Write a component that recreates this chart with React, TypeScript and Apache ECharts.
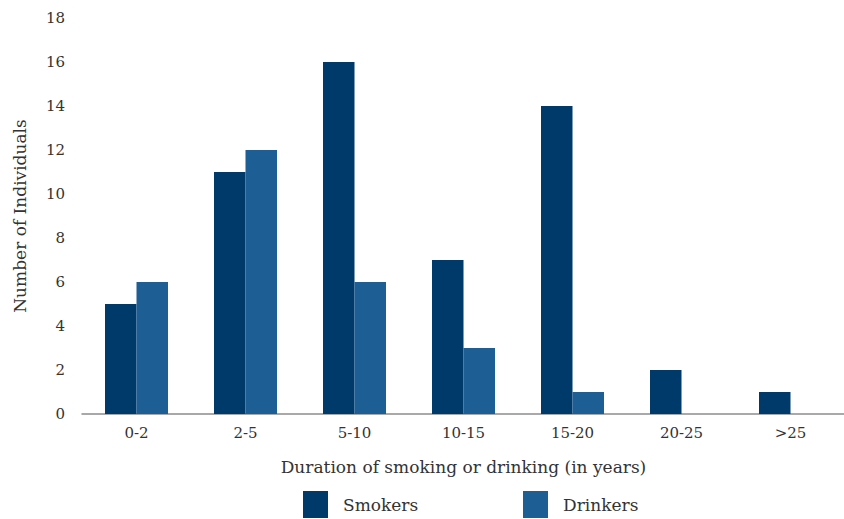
import React, { useEffect, useRef } from "react";
import * as echarts from "echarts";

const categories = ["0-2", "2-5", "5-10", "10-15", "15-20", "20-25", ">25"];
const smokers = [5, 11, 16, 7, 14, 2, 1];
const drinkers = [6, 12, 6, 3, 1, 0, 0];
const yTicks = { min: 0, max: 18, interval: 2 };

const SERIF = "'DejaVu Serif', serif";

export default function App() {
  const ref = useRef<HTMLDivElement>(null);
  useEffect(() => {
    const chart = echarts.init(ref.current!, null, { renderer: "svg" });
    chart.setOption({
      animation: false,
      backgroundColor: "#ffffff",
      grid: { left: 82, right: -1, top: 18, bottom: 105, outerBoundsMode: "none", containLabel: false },
      legend: [
        {
          data: ["Smokers"],
          left: 303,
          top: 491,
          padding: 0,
          itemWidth: 25,
          itemHeight: 27,
          icon: "rect",
          textStyle: { fontFamily: SERIF, fontSize: 17, color: "#333", padding: [0, 0, 0, 10] },
        },
        {
          data: ["Drinkers"],
          left: 523,
          top: 491,
          padding: 0,
          itemWidth: 25,
          itemHeight: 27,
          icon: "rect",
          textStyle: { fontFamily: SERIF, fontSize: 17, color: "#333", padding: [0, 0, 0, 10] },
        },
      ],
      xAxis: {
        type: "category",
        data: categories,
        name: "Duration of smoking or drinking (in years)",
        nameLocation: "middle",
        nameGap: 44,
        nameTextStyle: { fontFamily: SERIF, fontSize: 17, color: "#333" },
        axisLine: { lineStyle: { color: "#8c8c8c", width: 1.5 } },
        axisTick: { show: false },
        axisLabel: { fontFamily: SERIF, fontSize: 15, color: "#333", margin: 11 },
      },
      yAxis: {
        type: "value",
        min: yTicks.min,
        max: yTicks.max,
        interval: yTicks.interval,
        name: "Number of Individuals",
        nameLocation: "middle",
        nameGap: 54,
        nameTextStyle: { fontFamily: SERIF, fontSize: 17, color: "#333" },
        axisLine: { show: false },
        axisTick: { show: false },
        splitLine: { show: false },
        axisLabel: { fontFamily: SERIF, fontSize: 15, color: "#333", margin: 17 },
      },
      series: [
        {
          name: "Smokers",
          type: "bar",
          data: smokers,
          barWidth: 31.5,
          barGap: "0%",
          itemStyle: { color: "#003a6b" },
        },
        {
          name: "Drinkers",
          type: "bar",
          data: drinkers,
          barWidth: 31.5,
          itemStyle: { color: "#1d5f95" },
        },
      ],
    });
    return () => chart.dispose();
  }, []);
  return <div ref={ref} style={{ width: 844, height: 519, position: "absolute", left: 0, top: 0 }} />;
}
